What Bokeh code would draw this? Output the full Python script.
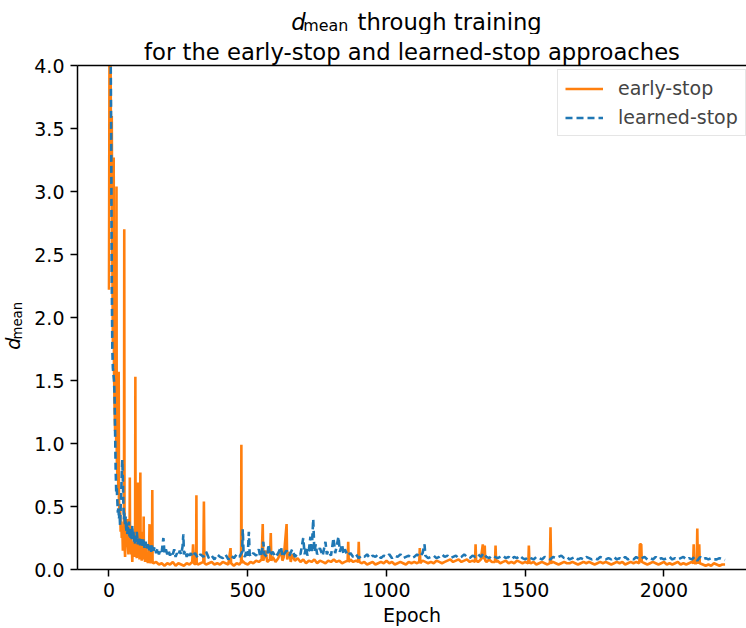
from bokeh.plotting import figure
from bokeh.layouts import column, row
from bokeh.models import (Range1d, FixedTicker, PrintfTickFormatter, Legend, LegendItem,
                          Label, LinearAxis)
from bokeh.embed import file_html
from bokeh.resources import INLINE

# ---------------- data ----------------
early_stop = [
    (0, 2.22), (2, 4.4), (4, 4.6), (6, 3.9), (8, 2.9), (10, 3.6), (12, 2.5), (14, 1.8), (16, 2.2),
    (17, 3.27), (18, 1.6), (20, 1.3), (22, 1.1), (24, 1.4), (26, 1.0), (27, 3.04), (28, 0.9),
    (30, 0.75), (32, 0.85), (34, 0.6), (35, 1.57), (36, 0.55), (38, 0.42), (40, 0.5), (42, 0.3),
    (44, 0.38), (46, 0.25), (48, 0.32), (50, 0.15), (52, 0.22), (54, 0.3), (55, 2.70), (56, 0.2),
    (58, 0.1), (60, 0.28), (62, 0.35), (64, 0.18), (66, 0.4), (68, 0.2), (70, 0.12), (72, 0.25),
    (74, 0.15), (75, 0.73), (76, 0.18), (78, 0.3), (80, 0.12), (82, 0.2), (84, 0.06), (86, 0.22),
    (88, 0.15), (90, 0.28), (92, 0.1), (94, 0.18), (95, 1.53), (96, 0.12), (98, 0.2), (100, 0.09),
    (102, 0.25), (104, 0.12), (105, 0.69), (106, 0.1), (108, 0.18), (110, 0.08), (112, 0.2),
    (113, 0.77), (114, 0.12), (116, 0.2), (118, 0.07), (120, 0.15), (122, 0.3), (124, 0.1),
    (125, 0.42), (126, 0.08), (128, 0.15), (130, 0.06), (132, 0.12), (134, 0.2), (136, 0.07),
    (138, 0.1), (140, 0.05), (142, 0.12), (144, 0.08), (146, 0.36), (147, 0.07), (150, 0.05),
    (152, 0.1), (155, 0.06), (156, 0.63), (157, 0.06), (160, 0.05),
    (170, 0.06), (180, 0.04), (190, 0.05), (200, 0.03), (210, 0.05), (220, 0.04), (230, 0.06),
    (240, 0.03), (250, 0.05), (260, 0.04), (270, 0.03), (280, 0.05), (290, 0.04), (300, 0.06),
    (303, 0.2), (306, 0.05), (310, 0.04), (314, 0.05), (315, 0.59), (316, 0.05), (320, 0.04),
    (330, 0.05), (340, 0.06), (342, 0.54), (344, 0.05), (350, 0.04), (360, 0.05), (370, 0.06),
    (380, 0.04), (390, 0.05), (400, 0.04), (410, 0.06), (420, 0.05), (430, 0.04), (438, 0.17),
    (440, 0.05), (450, 0.03), (460, 0.05), (470, 0.04), (476, 0.06), (477, 0.99), (478, 0.05),
    (480, 0.07), (490, 0.05), (500, 0.04), (510, 0.06), (520, 0.05), (530, 0.07), (540, 0.06),
    (550, 0.08), (554, 0.36), (556, 0.07), (565, 0.15), (570, 0.06), (580, 0.08), (583, 0.29),
    (585, 0.07), (590, 0.1), (600, 0.06), (610, 0.09), (620, 0.15), (625, 0.07), (630, 0.1),
    (640, 0.36), (642, 0.08), (650, 0.14), (655, 0.06), (660, 0.12), (670, 0.07), (680, 0.09),
    (690, 0.06), (700, 0.08), (710, 0.05), (720, 0.07), (730, 0.06), (740, 0.08), (750, 0.05),
    (760, 0.07), (770, 0.06), (780, 0.05), (790, 0.07), (800, 0.06), (810, 0.08), (820, 0.06),
    (830, 0.07), (840, 0.05), (850, 0.06), (860, 0.07), (862, 0.22), (864, 0.06), (870, 0.08),
    (880, 0.06), (890, 0.07), (898, 0.06), (900, 0.22), (902, 0.06), (910, 0.05), (920, 0.06),
    (930, 0.04), (940, 0.05), (950, 0.06), (960, 0.04), (970, 0.05), (980, 0.06), (990, 0.05),
    (1000, 0.07), (1010, 0.05), (1020, 0.06), (1030, 0.04), (1040, 0.05), (1050, 0.06),
    (1060, 0.05), (1070, 0.04), (1080, 0.06), (1090, 0.05), (1100, 0.06), (1110, 0.05),
    (1118, 0.06), (1120, 0.17), (1122, 0.05), (1130, 0.07), (1140, 0.06), (1150, 0.05),
    (1160, 0.06), (1170, 0.05), (1180, 0.07), (1190, 0.06), (1200, 0.05), (1210, 0.06),
    (1220, 0.07), (1230, 0.08), (1240, 0.06), (1250, 0.07), (1260, 0.08), (1270, 0.06),
    (1280, 0.07), (1290, 0.08), (1300, 0.06), (1310, 0.07), (1319, 0.06), (1321, 0.2),
    (1323, 0.07), (1330, 0.06), (1340, 0.08), (1347, 0.2), (1350, 0.08), (1354, 0.19),
    (1356, 0.07), (1360, 0.06), (1370, 0.08), (1380, 0.06), (1391, 0.06), (1393, 0.19),
    (1395, 0.06), (1400, 0.07), (1410, 0.05), (1420, 0.06), (1430, 0.07), (1440, 0.05),
    (1450, 0.06), (1460, 0.05), (1470, 0.07), (1480, 0.06), (1490, 0.05), (1500, 0.06),
    (1511, 0.05), (1513, 0.19), (1515, 0.06), (1520, 0.05), (1530, 0.06), (1540, 0.04),
    (1550, 0.05), (1560, 0.06), (1570, 0.05), (1580, 0.04), (1589, 0.05), (1591, 0.335),
    (1593, 0.05), (1600, 0.06), (1610, 0.05), (1620, 0.04), (1630, 0.05), (1640, 0.06),
    (1650, 0.05), (1660, 0.05), (1670, 0.06), (1680, 0.05), (1690, 0.04), (1700, 0.05),
    (1710, 0.06), (1720, 0.05), (1730, 0.06), (1740, 0.05), (1750, 0.04), (1760, 0.05),
    (1770, 0.06), (1780, 0.05), (1790, 0.06), (1800, 0.05), (1810, 0.04), (1820, 0.05),
    (1830, 0.06), (1840, 0.05), (1850, 0.06), (1860, 0.04), (1870, 0.05), (1880, 0.06),
    (1890, 0.05), (1900, 0.06), (1911, 0.05), (1913, 0.2), (1918, 0.2), (1920, 0.06),
    (1930, 0.05), (1940, 0.04), (1950, 0.05), (1960, 0.06), (1970, 0.05), (1980, 0.04),
    (1990, 0.05), (2000, 0.06), (2010, 0.04), (2020, 0.05), (2030, 0.04), (2040, 0.05),
    (2050, 0.06), (2060, 0.04), (2070, 0.05), (2080, 0.04), (2090, 0.05), (2100, 0.06),
    (2105, 0.05), (2107, 0.2), (2109, 0.05), (2118, 0.05), (2120, 0.325), (2122, 0.05),
    (2125, 0.06), (2127, 0.2), (2129, 0.05), (2140, 0.04), (2150, 0.03), (2160, 0.04),
    (2170, 0.03), (2180, 0.05), (2190, 0.04), (2200, 0.03), (2210, 0.04), (2220, 0.04),
]

learned_stop = [
    (0, 4.6), (3, 4.3), (6, 4.1), (8, 3.4), (10, 2.3), (12, 1.75), (14, 1.6), (16, 1.55),
    (18, 1.5), (20, 1.38), (22, 1.1), (24, 0.8), (26, 0.62), (28, 0.65), (30, 0.55), (32, 0.45),
    (34, 0.5), (36, 0.4), (38, 0.45), (40, 0.35), (42, 0.5), (44, 0.6), (46, 0.75), (48, 0.87),
    (50, 0.7), (52, 0.5), (54, 0.4), (56, 0.45), (58, 0.35), (60, 0.42), (62, 0.3), (64, 0.38),
    (66, 0.28), (68, 0.35), (70, 0.3), (72, 0.38), (74, 0.26), (76, 0.32), (78, 0.25), (80, 0.3),
    (82, 0.24), (84, 0.35), (86, 0.26), (88, 0.3), (90, 0.22), (92, 0.28), (94, 0.2), (96, 0.27),
    (98, 0.22), (100, 0.3), (104, 0.2), (108, 0.26), (112, 0.19), (116, 0.24), (120, 0.18),
    (124, 0.25), (128, 0.17), (132, 0.22), (136, 0.16), (140, 0.2), (144, 0.15), (148, 0.19),
    (152, 0.14), (156, 0.2), (160, 0.15), (165, 0.18), (170, 0.13), (175, 0.17), (180, 0.12),
    (185, 0.16), (190, 0.14), (196, 0.25), (200, 0.13), (205, 0.16), (210, 0.12), (215, 0.15),
    (220, 0.11), (225, 0.14), (230, 0.12), (235, 0.16), (240, 0.1), (245, 0.13), (250, 0.11),
    (255, 0.15), (260, 0.12), (265, 0.18), (268, 0.28), (270, 0.12), (275, 0.15), (280, 0.1),
    (285, 0.14), (290, 0.11), (295, 0.13), (300, 0.1), (310, 0.13), (320, 0.09), (330, 0.12),
    (340, 0.1), (350, 0.14), (360, 0.09), (370, 0.11), (380, 0.08), (390, 0.12), (400, 0.1),
    (410, 0.09), (420, 0.12), (430, 0.08), (440, 0.11), (450, 0.09), (460, 0.12), (470, 0.1),
    (480, 0.14), (482, 0.32), (485, 0.12), (490, 0.1), (495, 0.15), (500, 0.11), (504, 0.3),
    (507, 0.12), (510, 0.1), (520, 0.13), (530, 0.11), (540, 0.16), (545, 0.1), (550, 0.13),
    (556, 0.22), (560, 0.12), (570, 0.1), (575, 0.2), (580, 0.11), (590, 0.14), (600, 0.1),
    (610, 0.13), (620, 0.18), (625, 0.1), (630, 0.12), (640, 0.15), (650, 0.11), (660, 0.16),
    (670, 0.1), (680, 0.13), (690, 0.12), (700, 0.25), (705, 0.12), (710, 0.18), (715, 0.11),
    (720, 0.15), (726, 0.26), (730, 0.13), (736, 0.4), (740, 0.14), (745, 0.2), (750, 0.12),
    (760, 0.17), (770, 0.11), (780, 0.22), (785, 0.12), (790, 0.15), (800, 0.11), (809, 0.25),
    (815, 0.13), (820, 0.18), (827, 0.26), (832, 0.14), (840, 0.2), (845, 0.12), (850, 0.16),
    (860, 0.11), (870, 0.13), (880, 0.1), (890, 0.12), (900, 0.09), (910, 0.11), (920, 0.1),
    (930, 0.12), (940, 0.09), (950, 0.11), (960, 0.1), (970, 0.12), (980, 0.09), (990, 0.11),
    (1000, 0.1), (1010, 0.12), (1020, 0.09), (1030, 0.11), (1040, 0.1), (1050, 0.12),
    (1060, 0.09), (1070, 0.1), (1080, 0.11), (1090, 0.09), (1100, 0.1), (1110, 0.12),
    (1120, 0.1), (1130, 0.13), (1137, 0.2), (1140, 0.11), (1150, 0.09), (1160, 0.1),
    (1170, 0.11), (1180, 0.09), (1190, 0.1), (1200, 0.12), (1210, 0.1), (1220, 0.11),
    (1230, 0.09), (1240, 0.1), (1250, 0.11), (1260, 0.09), (1270, 0.1), (1280, 0.12),
    (1290, 0.1), (1300, 0.09), (1310, 0.11), (1320, 0.1), (1330, 0.12), (1340, 0.1),
    (1350, 0.13), (1360, 0.1), (1370, 0.09), (1380, 0.11), (1390, 0.1), (1400, 0.09),
    (1410, 0.1), (1420, 0.11), (1430, 0.09), (1440, 0.1), (1450, 0.08), (1460, 0.1),
    (1470, 0.09), (1480, 0.11), (1490, 0.09), (1500, 0.08), (1510, 0.1), (1520, 0.09),
    (1530, 0.08), (1540, 0.1), (1550, 0.09), (1560, 0.08), (1570, 0.1), (1580, 0.09),
    (1590, 0.08), (1600, 0.1), (1610, 0.09), (1620, 0.1), (1630, 0.11), (1640, 0.09),
    (1650, 0.1), (1660, 0.08), (1670, 0.09), (1680, 0.1), (1690, 0.08), (1700, 0.09),
    (1710, 0.08), (1720, 0.1), (1730, 0.09), (1740, 0.08), (1750, 0.09), (1760, 0.08),
    (1770, 0.1), (1780, 0.09), (1790, 0.08), (1800, 0.09), (1810, 0.08), (1820, 0.1),
    (1830, 0.08), (1840, 0.09), (1850, 0.08), (1860, 0.1), (1870, 0.08), (1880, 0.09),
    (1890, 0.08), (1900, 0.1), (1910, 0.08), (1920, 0.09), (1930, 0.1), (1940, 0.08),
    (1950, 0.09), (1960, 0.08), (1970, 0.1), (1980, 0.08), (1990, 0.09), (2000, 0.08),
    (2010, 0.09), (2020, 0.1), (2030, 0.08), (2040, 0.09), (2050, 0.08), (2060, 0.09),
    (2070, 0.1), (2080, 0.08), (2090, 0.09), (2100, 0.08), (2110, 0.1), (2120, 0.07),
    (2130, 0.1), (2140, 0.08), (2150, 0.09), (2160, 0.08), (2170, 0.09), (2180, 0.08),
    (2190, 0.08), (2200, 0.09), (2210, 0.08), (2220, 0.075),
]

x_ticks = [0, 500, 1000, 1500, 2000]
y_ticks = [0.0, 0.5, 1.0, 1.5, 2.0, 2.5, 3.0, 3.5, 4.0]
series_labels = ["early-stop", "learned-stop"]
title_line2 = "for the early-stop and learned-stop approaches"

early_epoch = [e for e, _ in early_stop]
early_dmean = [v for _, v in early_stop]
learned_epoch = [e for e, _ in learned_stop]
learned_dmean = [v for _, v in learned_stop]

FONT = "DejaVu Sans"
ORANGE = "#ff7f0e"
BLUE = "#1f77b4"

TOP_STRIP = 34          # height of the strip holding the first title line
MAIN_H = 628 - TOP_STRIP

# ---------------- main plot ----------------
p = figure(width=720, height=MAIN_H,
           x_range=Range1d(-113.5, 2297.3), y_range=Range1d(0, 4),
           output_backend="svg", toolbar_location=None,
           min_border_left=51, min_border_right=0, min_border_top=31, min_border_bottom=58)
p.outline_line_color = None
p.xgrid.visible = False
p.ygrid.visible = False
p.background_fill_color = "white"
p.border_fill_color = "white"

# second title line as the plot's own title
p.title.text = title_line2
p.title.text_font = FONT
p.title.text_font_size = "22.7px"
p.title.text_font_style = "normal"
p.title.text_color = "black"
p.title.align = "center"
p.title.offset = 4.5
p.title.standoff = 2

r_early = p.line(early_epoch, early_dmean, line_color=ORANGE, line_width=2.6)
r_learned = p.line(learned_epoch, learned_dmean, line_color=BLUE, line_width=2.6,
                   line_dash="7 4")

for ax in (p.xaxis[0], p.yaxis[0]):
    ax.axis_line_width = 1.5
    ax.axis_line_color = "black"
    ax.major_tick_line_width = 1.5
    ax.major_tick_line_color = "black"
    ax.major_tick_out = 7
    ax.major_tick_in = 0
    ax.minor_tick_line_color = None
    ax.major_label_text_font = FONT
    ax.major_label_text_font_size = "19px"
    ax.major_label_text_color = "black"
    ax.major_label_standoff = 6

p.xaxis[0].ticker = FixedTicker(ticks=x_ticks)
p.yaxis[0].ticker = FixedTicker(ticks=y_ticks)
p.yaxis[0].formatter = PrintfTickFormatter(format="%.1f")

p.xaxis[0].axis_label = "Epoch"
p.xaxis[0].axis_label_text_font = FONT
p.xaxis[0].axis_label_text_font_size = "19px"
p.xaxis[0].axis_label_text_font_style = "normal"
p.xaxis[0].axis_label_text_color = "black"
p.xaxis[0].axis_label_standoff = 4

top_axis = LinearAxis(ticker=FixedTicker(ticks=[]), axis_line_width=1.5, axis_line_color="black",
                      major_tick_line_color=None, minor_tick_line_color=None,
                      major_tick_out=0, major_label_standoff=0,
                      major_label_text_font_size="0px", major_label_text_color=None)
p.add_layout(top_axis, "above")

legend = Legend(items=[LegendItem(label=series_labels[0], renderers=[r_early]),
                       LegendItem(label=series_labels[1], renderers=[r_learned])],
                location=(480, 433), orientation="vertical",
                label_text_font=FONT, label_text_font_size="19px",
                glyph_width=38, glyph_height=21, label_standoff=15, spacing=7,
                padding=7, margin=0,
                border_line_color="#cccccc", border_line_width=1.2,
                background_fill_color="white", background_fill_alpha=0.8)
p.add_layout(legend)

# ---------------- title strip and y-label strip (pixel coordinates, y downwards) --------
def text_strip(w, h):
    f = figure(width=w, height=h, x_range=Range1d(0, w), y_range=Range1d(h, 0),
               output_backend="svg", toolbar_location=None,
               x_axis_location=None, y_axis_location=None,
               min_border_left=0, min_border_right=0, min_border_top=0, min_border_bottom=0)
    f.outline_line_color = None
    f.xgrid.visible = False
    f.ygrid.visible = False
    f.background_fill_color = "white"
    f.border_fill_color = "white"
    return f

def lab(fig, x, y, text, size, style="normal", align="left", angle=0.0):
    fig.add_layout(Label(x=x, y=y, text=text, text_font=FONT, text_font_size=size,
                         text_font_style=style, text_align=align,
                         text_baseline="alphabetic", text_color="black", angle=angle))

title_fig = text_strip(746, TOP_STRIP)
lab(title_fig, 290.7, 21.2, "d", "22.7px", style="italic")
lab(title_fig, 302.7, 24.8, "mean", "15.9px")
lab(title_fig, 357.0, 21.2, "through training", "22.7px")

ylab_fig = text_strip(26, MAIN_H)
lab(ylab_fig, 12.5, 369.0 - TOP_STRIP, "d", "19px", style="italic", angle=1.5707963)
lab(ylab_fig, 17.4, 357.0 - TOP_STRIP, "mean", "13.3px", angle=1.5707963)

layout = column(title_fig, row(ylab_fig, p, spacing=0), spacing=0)

open("out.html", "w").write(file_html(layout, INLINE))
